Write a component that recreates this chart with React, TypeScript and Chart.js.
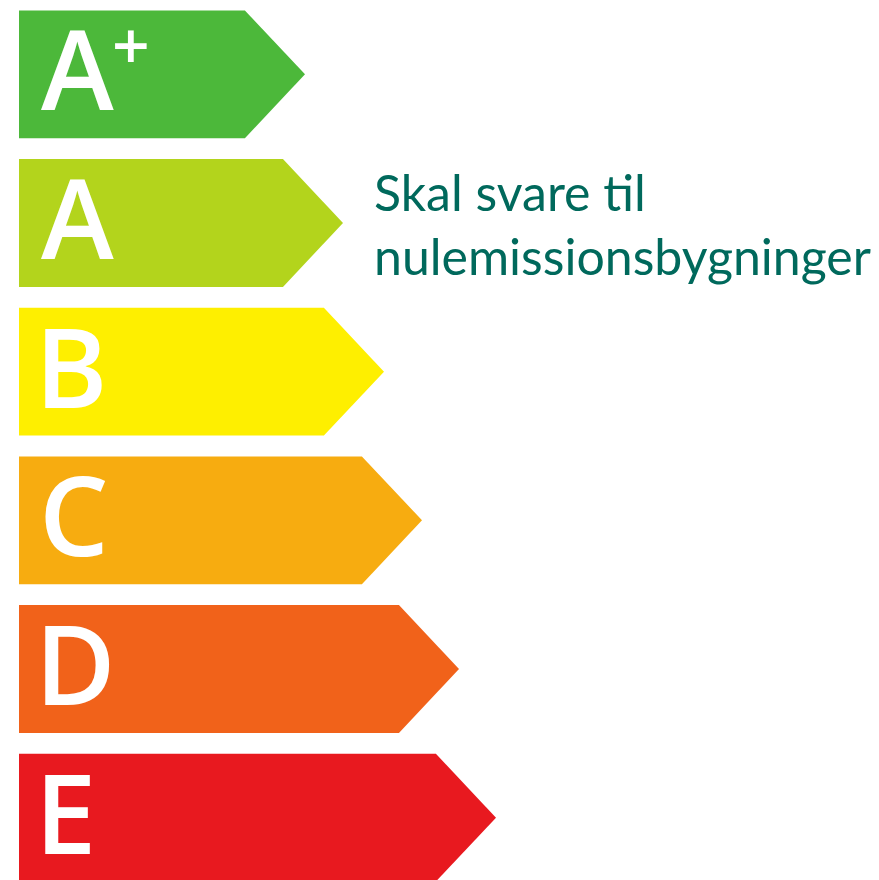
import React, { useEffect, useRef } from 'react';
import { Chart, registerables } from 'chart.js';

Chart.register(...registerables);

// Energy classes (top to bottom) and the relative length of each arrow
const classes = ['A+', 'A', 'B', 'C', 'D', 'E'];
const barLengths = [286, 324, 365, 403, 440, 477];
const barColors = ['#4CB83A', '#B3D41C', '#FEEF00', '#F7AC10', '#F1621A', '#E8191F'];

// Annotation text
const noteLines = ['Skal svare til', 'nulemissionsbygninger'];
const noteColor = '#00695C';

const arrowPlugin = {
  id: 'energyArrows',
  beforeDatasetDraw(chart: any, args: any) {
    const ctx = chart.ctx as CanvasRenderingContext2D;
    const meta = chart.getDatasetMeta(args.index);
    const colors = chart.data.datasets[args.index].backgroundColor as string[];
    meta.data.forEach((el: any, i: number) => {
      const { x, y, base, height } = el.getProps(['x', 'y', 'base', 'height'], true);
      const h = height;
      const tip = h * 0.47;
      ctx.save();
      ctx.fillStyle = colors[i];
      ctx.beginPath();
      ctx.moveTo(base, y - h / 2);
      ctx.lineTo(x - tip, y - h / 2);
      ctx.lineTo(x, y);
      ctx.lineTo(x - tip, y + h / 2);
      ctx.lineTo(base, y + h / 2);
      ctx.closePath();
      ctx.fill();

      const label = String(chart.data.labels[i]);
      const main = label[0];
      const sup = label.slice(1);
      ctx.fillStyle = '#ffffff';
      ctx.textAlign = 'left';
      ctx.textBaseline = 'alphabetic';
      ctx.font = '600 110px "Open Sans"';
      const m = ctx.measureText(main);
      const inkLeft = main === 'A' ? 22 : 26;
      ctx.fillText(main, base + inkLeft + m.actualBoundingBoxLeft, y + 36);
      if (sup) {
        ctx.font = '600 66px "Open Sans"';
        const ms = ctx.measureText(sup);
        ctx.fillText(sup, base + 96 + ms.actualBoundingBoxLeft, y - 44 + ms.actualBoundingBoxAscent);
      }
      ctx.restore();
    });
    return false;
  },
  afterDraw(chart: any) {
    const ctx = chart.ctx as CanvasRenderingContext2D;
    ctx.save();
    ctx.fillStyle = noteColor;
    ctx.textAlign = 'left';
    ctx.textBaseline = 'alphabetic';
    ctx.font = '50px Lato';
    const baselines = [211, 275];
    noteLines.forEach((line, i) => {
      ctx.fillText(line, 374, baselines[i]);
    });
    ctx.restore();
  },
};

export default function App() {
  const canvasRef = useRef<HTMLCanvasElement | null>(null);

  useEffect(() => {
    let chart: Chart | null = null;
    let cancelled = false;
    const make = () => {
      if (cancelled || !canvasRef.current) return;
      chart = new Chart(canvasRef.current, {
        type: 'bar',
        data: {
          labels: classes,
          datasets: [
            {
              data: barLengths,
              backgroundColor: barColors,
              barPercentage: 0.86,
              categoryPercentage: 1,
            },
          ],
        },
        options: {
          indexAxis: 'y',
          responsive: false,
          animation: false,
          devicePixelRatio: 1,
          layout: { padding: { left: 19, right: 0, top: 0, bottom: 0 } },
          plugins: { legend: { display: false }, tooltip: { enabled: false } },
          scales: {
            x: { display: false, min: 0, max: 860 },
            y: { display: false },
          },
        },
        plugins: [arrowPlugin as any],
      });
    };
    const fonts = (document as any).fonts;
    if (fonts && fonts.load) {
      Promise.all([
        fonts.load('600 110px "Open Sans"'),
        fonts.load('50px Lato'),
      ]).then(make, make);
    } else {
      make();
    }
    return () => {
      cancelled = true;
      if (chart) chart.destroy();
    };
  }, []);

  return (
    <div
      style={{
        position: 'fixed',
        left: 0,
        top: 0,
        width: 879,
        height: 880,
        overflow: 'hidden',
        background: '#ffffff',
      }}
    >
      <canvas ref={canvasRef} width={879} height={892} style={{ display: 'block' }} />
    </div>
  );
}
